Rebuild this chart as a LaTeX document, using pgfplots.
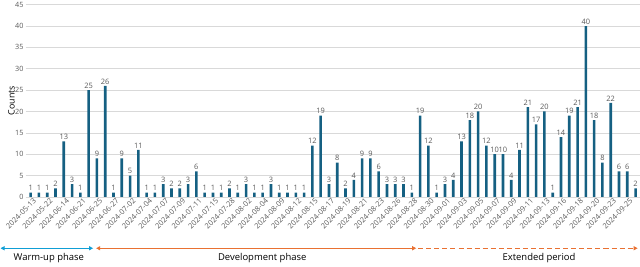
\documentclass[border=0pt]{standalone}
\usepackage{pgfplots}
\pgfplotsset{compat=1.18}
\usepackage{pgfplotstable}
\usepackage{fontspec}
\setmainfont{Open Sans}
\usetikzlibrary{arrows.meta}
\definecolor{barc}{HTML}{156082}
\definecolor{bluec}{HTML}{0F9ED5}
\definecolor{orangec}{HTML}{E97132}
\definecolor{txtgray}{HTML}{595959}
\definecolor{gridc}{HTML}{D9D9D9}

\pgfplotstableread{
x y
0 1
1 1
2 1
3 2
4 13
5 3
6 1
7 25
8 9
9 26
10 1
11 9
12 5
13 11
14 1
15 1
16 3
17 2
18 2
19 3
20 6
21 1
22 1
23 1
24 2
25 1
26 3
27 1
28 1
29 3
30 1
31 1
32 1
33 1
34 12
35 19
36 3
37 8
38 2
39 4
40 9
41 9
42 6
43 3
44 3
45 3
46 1
47 19
48 12
49 1
50 3
51 4
52 13
53 18
54 20
55 12
56 10
57 10
58 4
59 11
60 21
61 17
62 20
63 1
64 14
65 19
66 21
67 40
68 18
69 8
70 22
71 6
72 6
73 2
}\datatable

\begin{document}
\begin{tikzpicture}
\begin{axis}[
  scale only axis,
  width=610pt, height=191pt,
  xmin=-0.6, xmax=73.5,
  ymin=0, ymax=45,
  ytick={0,5,...,45},
  xtick={0,2,...,72},
  xticklabels={2024-05-13,2024-05-22,2024-06-14,2024-06-21,2024-06-25,2024-06-27,2024-07-02,2024-07-04,2024-07-07,2024-07-09,2024-07-11,2024-07-15,2024-07-28,2024-08-02,2024-08-04,2024-08-09,2024-08-12,2024-08-15,2024-08-17,2024-08-19,2024-08-21,2024-08-23,2024-08-26,2024-08-28,2024-08-30,2024-09-01,2024-09-03,2024-09-05,2024-09-07,2024-09-09,2024-09-11,2024-09-13,2024-09-16,2024-09-18,2024-09-20,2024-09-23,2024-09-25},
  xticklabel style={rotate=45, anchor=north east, inner sep=1pt, font=\fontsize{7.4}{8}\selectfont, text=txtgray, xshift=2pt, yshift=-1pt},
  yticklabel style={font=\fontsize{7.2}{9}\selectfont, text=txtgray, inner sep=2pt},
  /pgf/number format/assume math mode=true,
  ymajorgrids,
  grid style={gridc, line width=0.6pt},
  axis line style={draw=none},
  major tick length=0pt,
  ylabel={Counts},
  ylabel style={font=\fontsize{8.8}{10}\selectfont, yshift=-5pt},
  ybar,
  bar width=2.6pt,
  nodes near coords,
  every node near coord/.append style={font=\fontsize{7.4}{8}\selectfont, text=txtgray, inner sep=1.5pt},
  clip=false,
]
\addplot[fill=barc, draw=none] table[x=x, y=y] {\datatable};
\draw[{Triangle[length=4pt,width=4pt]}-{Triangle[length=4pt,width=4pt]}, bluec, line width=1pt]
  ([xshift=-25pt,yshift=-51pt]rel axis cs:0,0) -- ([xshift=67pt,yshift=-51pt]rel axis cs:0,0);
\draw[{Triangle[length=4pt,width=4pt]}-{Triangle[length=4pt,width=4pt]}, orangec, line width=1pt]
  ([xshift=70pt,yshift=-51pt]rel axis cs:0,0) -- ([xshift=388pt,yshift=-51pt]rel axis cs:0,0);
\draw[-{Triangle[length=4pt,width=4pt]}, orangec, line width=1pt, dash pattern=on 5pt off 3pt]
  ([xshift=390pt,yshift=-51pt]rel axis cs:0,0) -- ([xshift=608pt,yshift=-51pt]rel axis cs:0,0);
\node[font=\fontsize{9.4}{10}\selectfont] at ([xshift=23pt,yshift=-61pt]rel axis cs:0,0) {Warm-up phase};
\node[font=\fontsize{9.4}{10}\selectfont] at ([xshift=235pt,yshift=-61pt]rel axis cs:0,0) {Development phase};
\node[font=\fontsize{9.4}{10}\selectfont] at ([xshift=510pt,yshift=-61pt]rel axis cs:0,0) {Extended period};
\end{axis}
\end{tikzpicture}
\end{document}
